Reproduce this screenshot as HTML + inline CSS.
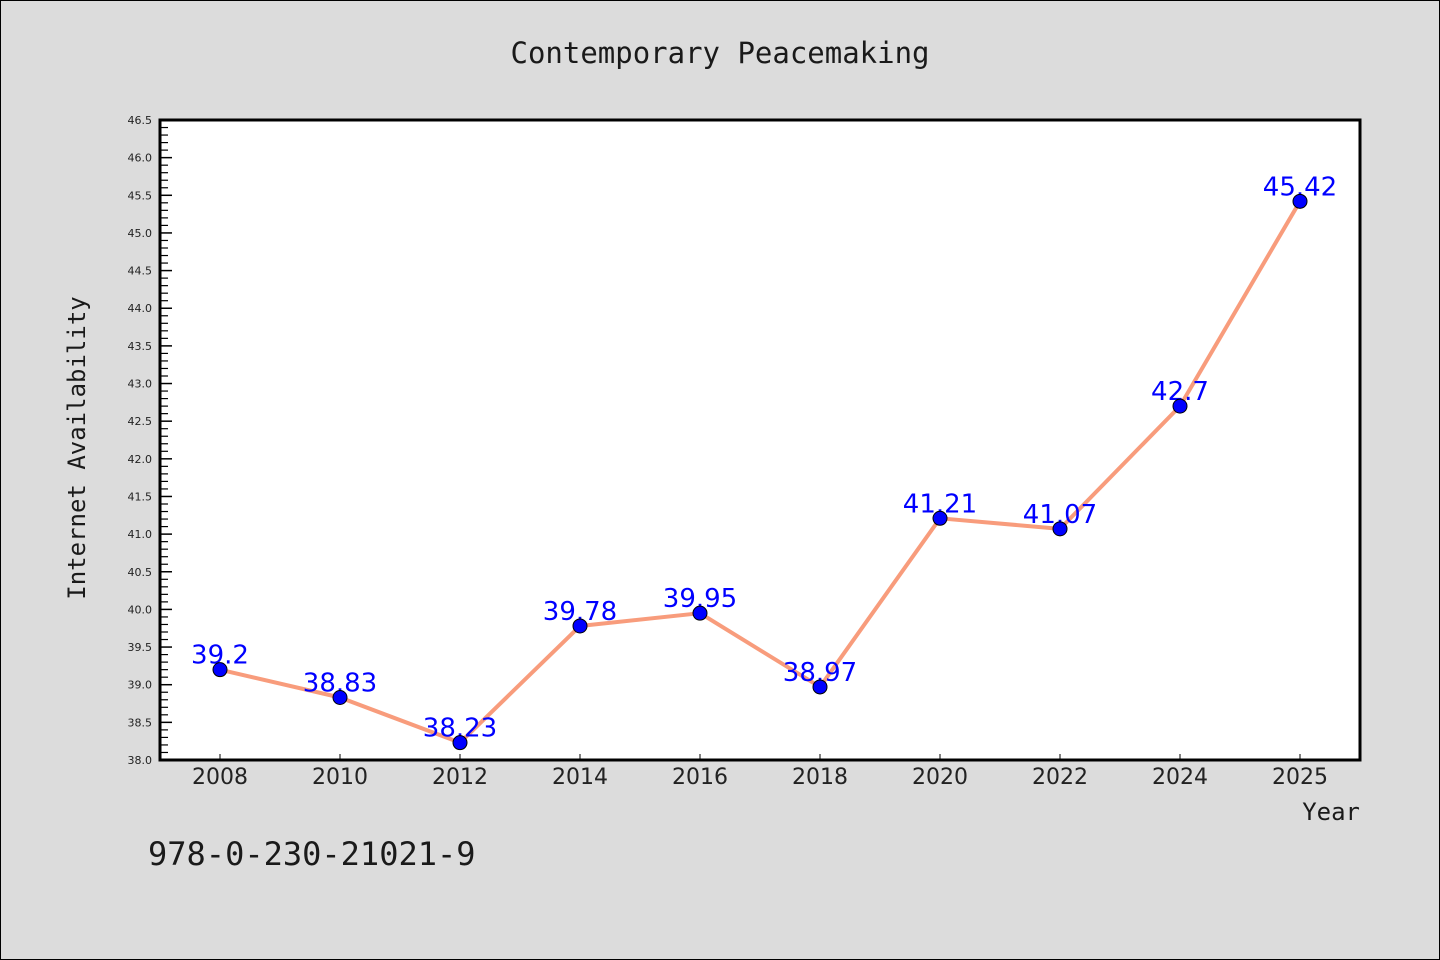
<!DOCTYPE html>
<html><head><meta charset="utf-8"><style>
html,body{margin:0;padding:0;background:#dcdcdc;}
svg{display:block;}
.wq{font-family:"WenQuanYi Zen Hei Mono","WenQuanYi Zen Hei",monospace;}
.dv{font-family:"DejaVu Sans","Liberation Sans",sans-serif;}
</style></head><body>
<svg id="chart" width="1440" height="960" xmlns="http://www.w3.org/2000/svg">
<rect x="0.5" y="0.5" width="1439" height="959" fill="#dcdcdc" stroke="#000" stroke-width="1"/>
<text class="wq" x="720" y="63" font-size="29" text-anchor="middle" fill="#1a1a1a">Contemporary Peacemaking</text>
<rect x="160" y="120" width="1200" height="640" fill="#fff"/>
<g id="ticks"></g>
<g id="marks"></g>
<rect x="160" y="120" width="1200" height="640" fill="none" stroke="#000" stroke-width="3"/>
<text class="wq" transform="translate(85,448) rotate(-90)" font-size="24" text-anchor="middle" fill="#1a1a1a">Internet Availability</text>
<text class="wq" x="1360" y="820" font-size="24" text-anchor="end" fill="#1a1a1a">Year</text>
<text class="wq" x="148" y="865" font-size="32" fill="#1a1a1a">978-0-230-21021-9</text>
</svg>
<script>
const categories=["2008","2010","2012","2014","2016","2018","2020","2022","2024","2025"];
const values=[39.2,38.83,38.23,39.78,39.95,38.97,41.21,41.07,42.7,45.42];
const valueLabels=["39.2","38.83","38.23","39.78","39.95","38.97","41.21","41.07","42.7","45.42"];
const yTicks=["38.0","38.5","39.0","39.5","40.0","40.5","41.0","41.5","42.0","42.5","43.0","43.5","44.0","44.5","45.0","45.5","46.0","46.5"];
const NS="http://www.w3.org/2000/svg";
const L=160,R=1360,T=120,B=760,yMin=38,yMax=46.5;
function xS(i){return L+(R-L)/categories.length*(i+0.5);}
function yS(v){return B-(v-yMin)/(yMax-yMin)*(B-T);}
function mk(tag,attrs,parent){const e=document.createElementNS(NS,tag);for(const k in attrs)e.setAttribute(k,attrs[k]);parent.appendChild(e);return e;}
const tg=document.getElementById('ticks'),mg=document.getElementById('marks');
yTicks.forEach((t,i)=>{
  const v=parseFloat(t),y=yS(v);
  const ln=mk('line',{x1:L,x2:L+12,y1:y,y2:y,stroke:'#000','stroke-width':1.5},tg);
  
  
  const tx=mk('text',{x:L-8,y:y+4,'font-size':11,'text-anchor':'end',fill:'#222',class:'dv'},tg);
  tx.textContent=t;
  
  
  if(i<yTicks.length-1){for(let k=1;k<5;k++){const ym=yS(v+0.1*k);
    const m=mk('line',{x1:L,x2:L+8,y1:ym,y2:ym,stroke:'#000','stroke-width':1.2},tg);
    
    }}
});
categories.forEach((c,i)=>{
  const x=xS(i);
  const ln=mk('line',{x1:x,x2:x,y1:B,y2:B-6,stroke:'#000','stroke-width':1},tg);
  
  
  const tx=mk('text',{x:x,y:B+24,'font-size':22,'text-anchor':'middle',fill:'#222',class:'dv'},tg);
  tx.textContent=c;
  
  
});
const pts=values.map((v,i)=>xS(i)+','+yS(v)).join(' ');
const line=mk('polyline',{points:pts,fill:'none',stroke:'#f89c7c','stroke-width':4,'stroke-linejoin':'round'},mg);


values.forEach((v,i)=>{
  const tx=mk('text',{x:xS(i),y:yS(v)-6,'font-size':26,'text-anchor':'middle',fill:'#0000ff',class:'dv'},mg);
  tx.textContent=valueLabels[i];
  
  
});
values.forEach((v,i)=>{
  const c=mk('circle',{cx:xS(i),cy:yS(v),r:7,fill:'#0000ff',stroke:'#000','stroke-width':1},mg);
  
  
});
</script>
</body></html>
